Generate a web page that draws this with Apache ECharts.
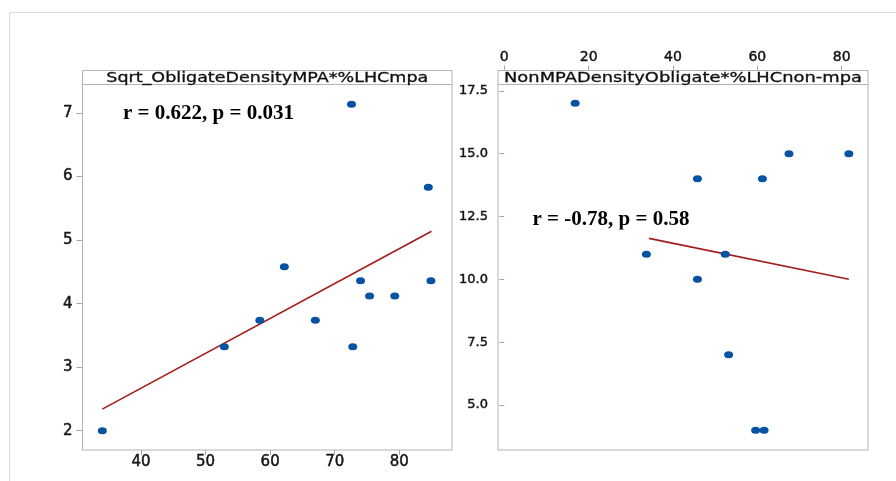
<!DOCTYPE html>
<html>
<head>
<meta charset="utf-8">
<script src="https://cdn.jsdelivr.net/npm/echarts@6/dist/echarts.min.js"></script>
<style>
  html, body { margin: 0; padding: 0; background: #ffffff; }
  #chart { width: 896px; height: 481px; }
</style>
</head>
<body>
<div id="chart"></div>
<script>
// MPA sites: %LHC against square-root obligate density
const mpaLHC = [34.0, 52.9, 58.4, 62.2, 67.0, 72.6, 72.8, 74.0, 75.4, 79.3, 84.5, 84.9];
const mpaSqrtDensity = [2.0, 3.32, 3.74, 4.58, 3.74, 7.14, 3.32, 4.36, 4.12, 4.12, 5.83, 4.36];
const mpaFitX = [34.0, 85.0];
const mpaFitY = [2.34, 5.14];

// Non-MPA sites: %LHC against obligate density
const nonMpaLHC = [16.8, 33.7, 45.8, 45.8, 52.4, 53.2, 59.6, 61.2, 61.6, 67.5, 81.7];
const nonMpaDensity = [17, 11, 14, 10, 11, 7, 4, 14, 4, 15, 15];
const nonMpaFitX = [34.3, 81.7];
const nonMpaFitY = [11.63, 10.0];

// Panel headers and correlation notes
const mpaTitle = 'Sqrt_ObligateDensityMPA*%LHCmpa';
const nonMpaTitle = 'NonMPADensityObligate*%LHCnon-mpa';
const mpaStat = 'r = 0.622, p = 0.031';
const nonMpaStat = 'r = -0.78, p = 0.58';

// Tick values
const mpaXTicks = [40, 50, 60, 70, 80];
const mpaYTicks = [2, 3, 4, 5, 6, 7];
const nonMpaXTicks = [0, 20, 40, 60, 80];
const nonMpaYTicks = [5, 7.5, 10, 12.5, 15, 17.5];

const zip = (xs, ys) => xs.map((x, i) => [x, ys[i]]);

const FRAME = '#b3b3b3';
const TICK = '#a6a6a6';
const LABEL = '#141414';
const DOT = '#0652a3';
const FIT = '#a31b1b';
const SANS = '"DejaVu Sans", sans-serif';

// Panel geometry
const P1 = { left: 82.5, right: 452, top: 84.5, bottom: 450 };
const P2 = { left: 498, right: 868, top: 84.5, bottom: 450 };
const STRIP_TOP = 70.5;

// Stretch header text horizontally to fill its strip like the plotting package does
const measure = (txt, font) => {
  const ctx = document.createElement('canvas').getContext('2d');
  ctx.font = font;
  return ctx.measureText(txt).width;
};
const headerFont = '14px "DejaVu Sans"';
const headerScale1 = 322 / measure(mpaTitle, headerFont);
const headerScale2 = 358 / measure(nonMpaTitle, headerFont);

// Tick label style: slightly heavy sans, as in the statistics package output
const tickLabel = (size, extra) => Object.assign({
  color: LABEL, fontFamily: SANS, fontSize: size,
  textBorderColor: LABEL, textBorderWidth: 0.45
}, extra);

function valueAxis(extra) {
  return Object.assign({
    type: 'value',
    axisLine: { show: false },
    splitLine: { show: false }
  }, extra);
}

const chart = echarts.init(document.getElementById('chart'), null, { renderer: 'canvas' });

chart.setOption({
  animation: false,
  backgroundColor: '#ffffff',
  grid: [
    { left: P1.left, top: P1.top, width: P1.right - P1.left, height: P1.bottom - P1.top,
      show: true, borderColor: FRAME, borderWidth: 1, backgroundColor: 'transparent' },
    { left: P2.left, top: P2.top, width: P2.right - P2.left, height: P2.bottom - P2.top,
      show: true, borderColor: FRAME, borderWidth: 1, backgroundColor: 'transparent' }
  ],
  xAxis: [
    valueAxis({
      gridIndex: 0, position: 'bottom', min: 30.93, max: 88.17,
      axisTick: { show: true, length: 5, customValues: mpaXTicks, lineStyle: { color: TICK } },
      axisLabel: tickLabel(15, { customValues: mpaXTicks, margin: 5 })
    }),
    valueAxis({
      gridIndex: 1, position: 'top', offset: P2.top - STRIP_TOP, min: -1.49, max: 86.24,
      axisTick: { show: true, length: 5, customValues: nonMpaXTicks, lineStyle: { color: TICK } },
      axisLabel: tickLabel(14, { customValues: nonMpaXTicks, margin: 6 })
    })
  ],
  yAxis: [
    valueAxis({
      gridIndex: 0, min: 1.696, max: 7.449,
      axisTick: { show: true, length: 6, customValues: mpaYTicks, lineStyle: { color: TICK } },
      axisLabel: tickLabel(15, { customValues: mpaYTicks, margin: 10 })
    }),
    valueAxis({
      gridIndex: 1, min: 3.21, max: 17.75,
      axisTick: { show: true, length: 5, customValues: nonMpaYTicks, lineStyle: { color: TICK } },
      axisLabel: tickLabel(13, { customValues: nonMpaYTicks, margin: 10,
        formatter: v => Number(v).toFixed(1) })
    })
  ],
  series: [
    { type: 'line', xAxisIndex: 0, yAxisIndex: 0, data: zip(mpaFitX, mpaFitY),
      showSymbol: false, silent: true, z: 2, lineStyle: { color: FIT, width: 1.6 } },
    { type: 'scatter', xAxisIndex: 0, yAxisIndex: 0, data: zip(mpaLHC, mpaSqrtDensity),
      symbol: 'circle', symbolSize: [9, 7], z: 3, itemStyle: { color: DOT, opacity: 1 } },
    { type: 'line', xAxisIndex: 1, yAxisIndex: 1, data: zip(nonMpaFitX, nonMpaFitY),
      showSymbol: false, silent: true, z: 2, lineStyle: { color: FIT, width: 1.6 } },
    { type: 'scatter', xAxisIndex: 1, yAxisIndex: 1, data: zip(nonMpaLHC, nonMpaDensity),
      symbol: 'circle', symbolSize: [9, 7], z: 3, itemStyle: { color: DOT, opacity: 1 } }
  ],
  graphic: [
    // page border
    { type: 'rect', silent: true, z: 0,
      shape: { x: 9.5, y: 12.5, width: 1000, height: 1000 },
      style: { fill: 'none', stroke: '#d9d9d9', lineWidth: 1 } },
    // header strips
    { type: 'rect', silent: true, z: 5,
      shape: { x: P1.left, y: STRIP_TOP, width: P1.right - P1.left, height: P1.top - STRIP_TOP },
      style: { fill: '#ffffff', stroke: FRAME, lineWidth: 1 } },
    { type: 'rect', silent: true, z: 5,
      shape: { x: P2.left, y: STRIP_TOP, width: P2.right - P2.left, height: P2.top - STRIP_TOP },
      style: { fill: '#ffffff', stroke: FRAME, lineWidth: 1 } },
    { type: 'text', silent: true, z: 6,
      x: (P1.left + P1.right) / 2, y: 78, scaleX: headerScale1,
      style: { text: mpaTitle, font: headerFont, fill: '#111111', align: 'center', verticalAlign: 'middle',
        stroke: '#111111', lineWidth: 0.3 } },
    { type: 'text', silent: true, z: 6,
      x: (P2.left + P2.right) / 2, y: 78, scaleX: headerScale2,
      style: { text: nonMpaTitle, font: headerFont, fill: '#111111', align: 'center', verticalAlign: 'middle',
        stroke: '#111111', lineWidth: 0.3 } },
    // correlation notes
    { type: 'text', silent: true, z: 6, x: 123, y: 113.5,
      style: { text: mpaStat, font: 'bold 21px "Liberation Serif", serif', fill: '#000000',
        align: 'left', verticalAlign: 'middle' } },
    { type: 'text', silent: true, z: 6, x: 532.5, y: 220,
      style: { text: nonMpaStat, font: 'bold 21px "Liberation Serif", serif', fill: '#000000',
        align: 'left', verticalAlign: 'middle' } },
    // the note's text box cuts off its descenders
    { type: 'rect', silent: true, z: 7,
      shape: { x: 528, y: 229.5, width: 170, height: 6 },
      style: { fill: '#ffffff' } }
  ]
});
</script>
</body>
</html>
